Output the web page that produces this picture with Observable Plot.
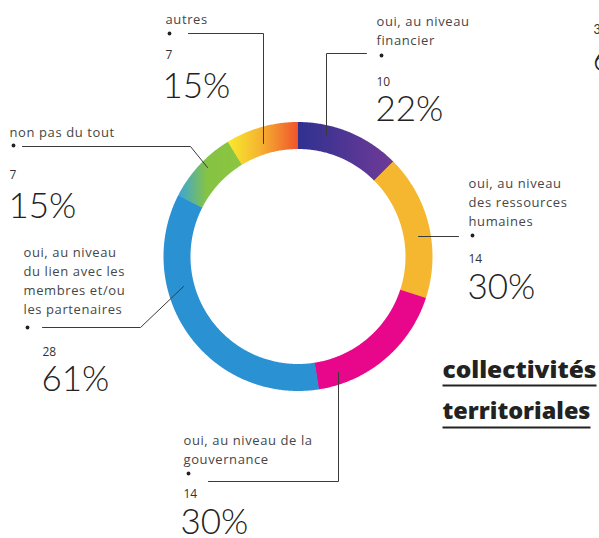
<!DOCTYPE html>
<html>
<head>
<meta charset="utf-8">
<script src="https://cdn.jsdelivr.net/npm/d3@7"></script>
<script src="https://cdn.jsdelivr.net/npm/@observablehq/plot@0.6"></script>
<style>
  html, body { margin: 0; padding: 0; background: #fff; overflow: hidden; }
</style>
</head>
<body>
<div id="chart"></div>
<script>
// ---- data ----
const categories = [
  "oui, au niveau financier",
  "oui, au niveau des ressources humaines",
  "oui, au niveau de la gouvernance",
  "oui, au niveau du lien avec les membres et/ou les partenaires",
  "non pas du tout",
  "autres"
];
const labelTexts = [
  "oui, au niveau\nfinancier",
  "oui, au niveau\ndes ressources\nhumaines",
  "oui, au niveau de la\ngouvernance",
  "oui, au niveau\ndu lien avec les\nmembres et/ou\nles partenaires",
  "non pas du tout",
  "autres"
];
const counts = [10, 14, 14, 28, 7, 7];
const percents = ["22%", "30%", "30%", "61%", "15%", "15%"];
const groupTitle = ["collectivités", "territoriales"];

// ---- palette ----
const colors = ["url(#g-fin)", "#f6b730", "#e8078b", "#2a92d3", "url(#g-non)", "url(#g-autres)"];

// ---- layout (pixel units of the x/y scales) ----
const W = 599, H = 538;
const cx = 297.5, cy = 256, rOuter = 134.5, rInner = 107.5;
const labelX   = [376, 468, 183, 23, 9, 165];
const labelY   = [44, 225, 463, 313, 136, 23];
const countX   = [376, 468, 183, 42, 9, 165];
const countY   = [85, 262, 497, 355, 178, 58];
const pctX     = [375, 467, 180, 41, 8, 162];
const pctY     = [120, 298, 533, 390, 217, 97];
const dotX     = [381, 472, 188, 27, 13, 169];
const dotY     = [55, 235, 473, 327, 145, 33];
const leaders  = [
  [[366, 53], [326, 53], [326, 135]],
  [[458, 236], [418, 236]],
  [[208, 481], [338, 481], [338, 372]],
  [[42, 327], [140, 327], [183, 286]],
  [[22, 146], [190, 146], [207, 167]],
  [[188, 33], [263, 33], [263, 143]]
];
const titleX = 442, titleY = [377, 418], titleW = [154, 148], underlineY = [385, 427];

// ---- donut geometry from counts ----
const total = d3.sum(counts);
let acc = 0;
const arcs = counts.map((c, i) => {
  const a0 = acc / total * 2 * Math.PI;
  acc += c;
  const a1 = acc / total * 2 * Math.PI;
  return {i, a0, a1: i < counts.length - 1 ? a1 + 0.004 : a1};
});
function arcPoints({a0, a1}) {
  const n = Math.max(12, Math.ceil((a1 - a0) / (Math.PI / 360)));
  const pts = [];
  for (let k = 0; k <= n; k++) {
    const a = a0 + (a1 - a0) * k / n;
    pts.push({x: cx + rOuter * Math.sin(a), y: cy - rOuter * Math.cos(a)});
  }
  for (let k = n; k >= 0; k--) {
    const a = a0 + (a1 - a0) * k / n;
    pts.push({x: cx + rInner * Math.sin(a), y: cy - rInner * Math.cos(a)});
  }
  return pts;
}

const labels = categories.map((c, i) => ({cat: c, text: labelTexts[i], x: labelX[i], y: labelY[i]}));
const countLabels = counts.map((v, i) => ({text: String(v), x: countX[i], y: countY[i]}));
const pctLabels = percents.map((p, i) => ({text: p, x: pctX[i], y: pctY[i]}));
const dots = categories.map((c, i) => ({x: dotX[i], y: dotY[i]}));
const leaderPts = leaders.flatMap((pts, i) => pts.map(([x, y]) => ({id: i, x, y})));

const marks = [];
arcs.forEach((a, i) => {
  marks.push(Plot.line(arcPoints(a), {x: "x", y: "y", fill: colors[i], stroke: "none", curve: "linear"}));
});
marks.push(
  Plot.line(leaderPts, {x: "x", y: "y", z: "id", stroke: "#3a3a3a", strokeWidth: 1}),
  Plot.dot(dots, {x: "x", y: "y", r: 1.9, fill: "#222", stroke: "none"}),
  Plot.text(labels, {x: "x", y: "y", text: "text", textAnchor: "start", lineAnchor: "bottom",
    fontFamily: "'Open Sans', sans-serif", fontSize: 13, lineHeight: 1.44, fill: "#464646"}),
  Plot.text(countLabels, {x: "x", y: "y", text: "text", textAnchor: "start", lineAnchor: "bottom",
    fontFamily: "'Open Sans', sans-serif", fontSize: 12, fill: "#333"}),
  Plot.text(pctLabels, {x: "x", y: "y", text: "text", textAnchor: "start", lineAnchor: "bottom",
    fontSize: 35, fontWeight: 300, fill: "#222"}),
  Plot.text(groupTitle.map((t, i) => ({t, x: titleX, y: titleY[i]})), {x: "x", y: "y", text: "t",
    textAnchor: "start", lineAnchor: "bottom", fontFamily: "'Open Sans', sans-serif",
    fontSize: 22, fontWeight: 800, fill: "#222"}),
  Plot.link(groupTitle.map((t, i) => ({x1: titleX, x2: titleX + titleW[i], y: underlineY[i]})),
    {x1: "x1", x2: "x2", y1: "y", y2: "y", stroke: "#222", strokeWidth: 2}),
  // neighbouring chart, cut off at the right edge
  Plot.text([{t: "3", x: 593, y: 33}], {x: "x", y: "y", text: "t", textAnchor: "start", lineAnchor: "bottom", fontSize: 12.5, fill: "#333"}),
  Plot.text([{t: "6", x: 592, y: 70}], {x: "x", y: "y", text: "t", textAnchor: "start", lineAnchor: "bottom", fontSize: 35, fontWeight: 300, fill: "#222"})
);

const chart = Plot.plot({
  width: W, height: H,
  margin: 0,
  x: {domain: [0, W], range: [0, W], axis: null},
  y: {domain: [0, H], range: [0, H], axis: null},
  style: {fontFamily: "Lato, 'Open Sans', sans-serif", background: "#fff", overflow: "hidden"},
  marks
});

const svg = d3.select(chart.tagName.toLowerCase() === "svg" ? chart : chart.querySelector("svg"));
const defs = svg.insert("defs", ":first-child");
function grad(id, stops) {
  const g = defs.append("linearGradient").attr("id", id).attr("x1", 0).attr("x2", 1).attr("y1", 0).attr("y2", 0);
  stops.forEach(([o, c]) => g.append("stop").attr("offset", o).attr("stop-color", c));
}
grad("g-fin", [[0, "#2f3190"], [1, "#703a97"]]);
grad("g-non", [[0, "#3ba5d8"], [0.45, "#86c344"], [1, "#8cc540"]]);
grad("g-autres", [[0, "#f8ea2c"], [0.45, "#f5b531"], [1, "#f0552b"]]);

// category labels: slightly wider tracking, like the original typeface
svg.selectAll("g[font-size='13']").attr("letter-spacing", "0.6px");

// stretch the group title to the width of its underline
svg.selectAll("text").each(function() {
  const i = groupTitle.indexOf(this.textContent);
  if (i >= 0) d3.select(this).attr("textLength", titleW[i]).attr("lengthAdjust", "spacingAndGlyphs");
});

document.getElementById("chart").append(chart);
</script>
</body>
</html>
